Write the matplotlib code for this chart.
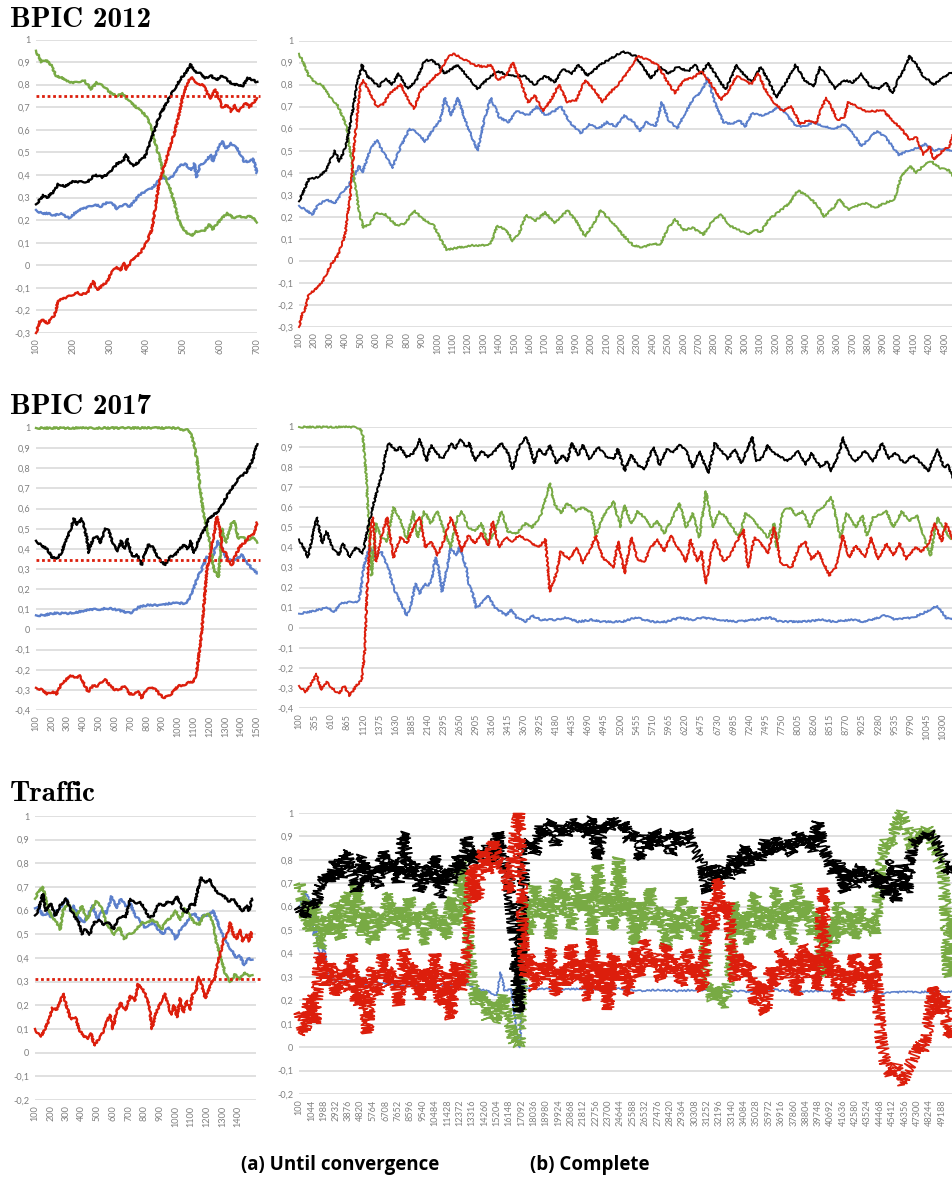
import numpy as np
import matplotlib.pyplot as plt

# ---------------- BPIC 2012 : until convergence ----------------
b12a_black_x = [100,120,130,150,160,180,200,220,240,260,280,300,320,335,345,355,365,380,395,405,420,435,455,475,495,510,520,530,545,560,575,590,605,620,635,650,660,675,690,700]
b12a_black = [0.27,0.31,0.30,0.33,0.36,0.35,0.37,0.37,0.37,0.40,0.39,0.41,0.45,0.46,0.49,0.45,0.44,0.46,0.48,0.52,0.59,0.66,0.72,0.78,0.83,0.86,0.89,0.86,0.85,0.83,0.84,0.82,0.84,0.82,0.80,0.80,0.79,0.83,0.82,0.81]
b12a_red_x = [100,110,120,130,145,150,160,170,185,200,210,225,240,255,265,280,295,305,320,330,340,345,360,375,385,400,415,425,435,450,465,475,490,500,515,525,540,555,565,575,585,595,605,620,630,640,650,660,670,680,690,700]
b12a_red = [-0.30,-0.25,-0.24,-0.26,-0.23,-0.22,-0.16,-0.15,-0.14,-0.13,-0.12,-0.13,-0.12,-0.07,-0.11,-0.09,-0.07,-0.03,-0.01,-0.02,0.01,-0.02,0.02,0.04,0.06,0.10,0.16,0.27,0.37,0.45,0.53,0.58,0.68,0.76,0.82,0.83,0.80,0.80,0.76,0.74,0.78,0.75,0.70,0.71,0.68,0.71,0.68,0.70,0.72,0.70,0.72,0.74]
b12a_blue_x = [100,115,135,150,165,190,205,225,245,260,275,295,310,320,340,355,365,380,400,415,430,445,460,475,490,505,520,530,535,545,565,575,580,595,605,615,630,645,655,665,680,690,700]
b12a_blue = [0.245,0.23,0.23,0.22,0.23,0.21,0.23,0.25,0.26,0.27,0.26,0.28,0.27,0.25,0.27,0.26,0.28,0.31,0.33,0.34,0.37,0.39,0.38,0.40,0.44,0.45,0.42,0.45,0.39,0.44,0.47,0.49,0.46,0.52,0.55,0.52,0.54,0.52,0.49,0.46,0.46,0.47,0.41]
b12a_green_x = [100,115,125,140,155,170,190,210,230,250,265,285,305,320,335,350,365,380,400,410,420,435,447,460,475,487,505,522,535,555,570,580,590,605,620,635,650,665,680,695,700]
b12a_green = [0.95,0.90,0.91,0.89,0.84,0.83,0.81,0.81,0.82,0.78,0.81,0.79,0.76,0.75,0.76,0.73,0.71,0.69,0.66,0.62,0.56,0.48,0.40,0.36,0.28,0.20,0.15,0.13,0.15,0.15,0.18,0.16,0.18,0.21,0.23,0.21,0.22,0.21,0.22,0.20,0.19]

# ---------------- BPIC 2012 : complete ----------------
b12b_black_x = [100,163,220,277,305,334,362,405,434,477,511,540,576,619,662,705,748,805,862,919,962,1004,1047,1133,1190,1261,1333,1390,1475,1561,1632,1703,1760,1818,1875,1917,1974,2060,2131,2203,2288,2345,2388,2445,2502,2559,2631,2673,2716,2759,2830,2873,2916,2944,2987,3044,3101,3158,3201,3258,3330,3387,3444,3487,3544,3586,3643,3700,3757,3814,3871,3914,3957,4000,4043,4071,4114,4157,4228,4285,4352]
b12b_black = [0.27,0.37,0.38,0.41,0.46,0.50,0.45,0.52,0.62,0.80,0.89,0.84,0.82,0.79,0.83,0.80,0.85,0.78,0.82,0.91,0.91,0.89,0.85,0.89,0.84,0.78,0.83,0.86,0.84,0.84,0.80,0.84,0.81,0.87,0.85,0.89,0.84,0.89,0.92,0.95,0.93,0.87,0.83,0.88,0.85,0.88,0.86,0.89,0.85,0.90,0.82,0.78,0.84,0.89,0.85,0.81,0.88,0.81,0.74,0.80,0.89,0.82,0.79,0.88,0.82,0.78,0.82,0.81,0.85,0.79,0.78,0.81,0.76,0.83,0.88,0.93,0.89,0.84,0.80,0.83,0.86]
b12b_red_x = [100,120,140,163,206,248,277,305,348,377,400,434,462,500,519,562,605,648,690,762,819,848,890,947,1019,1061,1104,1161,1233,1304,1347,1390,1447,1490,1547,1590,1632,1689,1746,1789,1846,1903,1960,2017,2074,2117,2174,2231,2302,2374,2431,2488,2545,2602,2659,2716,2773,2844,2901,2944,2987,3044,3087,3130,3187,3244,3301,3358,3415,3458,3501,3529,3558,3601,3643,3672,3729,3786,3843,3900,3957,4014,4071,4114,4157,4200,4228,4285,4328,4352]
b12b_red = [-0.30,-0.24,-0.22,-0.15,-0.13,-0.10,-0.06,-0.02,0.02,0.07,0.12,0.30,0.55,0.80,0.82,0.76,0.70,0.71,0.76,0.80,0.72,0.69,0.77,0.81,0.86,0.92,0.94,0.92,0.89,0.88,0.89,0.82,0.84,0.90,0.80,0.72,0.75,0.68,0.74,0.80,0.72,0.73,0.82,0.78,0.72,0.76,0.80,0.85,0.93,0.91,0.89,0.82,0.76,0.82,0.83,0.86,0.81,0.73,0.78,0.84,0.82,0.80,0.85,0.78,0.72,0.68,0.70,0.62,0.64,0.62,0.70,0.74,0.70,0.64,0.65,0.72,0.70,0.68,0.68,0.68,0.64,0.60,0.55,0.56,0.48,0.52,0.46,0.50,0.52,0.57]
b12b_blue_x = [100,148,186,220,277,334,377,420,462,491,511,562,605,634,677,705,733,762,819,876,919,976,1019,1047,1090,1133,1190,1219,1261,1304,1347,1404,1461,1518,1590,1646,1703,1760,1803,1860,1931,1988,2045,2103,2160,2217,2274,2317,2360,2417,2460,2502,2559,2602,2659,2716,2759,2802,2859,2916,2959,3001,3044,3101,3158,3215,3273,3330,3387,3444,3515,3586,3643,3700,3757,3814,3857,3914,3957,4000,4057,4114,4171,4228,4285,4352]
b12b_blue = [0.25,0.23,0.21,0.25,0.28,0.26,0.31,0.34,0.39,0.43,0.40,0.50,0.55,0.51,0.46,0.42,0.47,0.52,0.60,0.58,0.54,0.60,0.64,0.74,0.66,0.74,0.62,0.57,0.50,0.64,0.74,0.65,0.63,0.68,0.66,0.70,0.66,0.68,0.70,0.63,0.58,0.62,0.60,0.63,0.61,0.66,0.63,0.59,0.63,0.61,0.72,0.64,0.60,0.66,0.73,0.77,0.83,0.72,0.63,0.62,0.64,0.61,0.67,0.66,0.67,0.70,0.66,0.61,0.61,0.63,0.61,0.60,0.62,0.58,0.52,0.56,0.59,0.56,0.52,0.48,0.50,0.51,0.53,0.50,0.51,0.50]
b12b_green_x = [100,129,163,206,248,305,348,405,448,491,519,562,605,662,733,790,848,905,976,1019,1061,1133,1219,1304,1347,1390,1447,1490,1533,1576,1632,1703,1760,1846,1903,1960,2017,2060,2131,2203,2274,2331,2402,2445,2502,2545,2602,2659,2730,2787,2844,2901,2959,3015,3073,3101,3158,3215,3287,3344,3415,3472,3515,3572,3615,3672,3729,3786,3843,3900,3971,4014,4071,4114,4171,4214,4271,4328,4352]
b12b_green = [0.94,0.90,0.84,0.81,0.80,0.74,0.71,0.62,0.42,0.22,0.15,0.17,0.22,0.21,0.16,0.17,0.23,0.19,0.16,0.10,0.05,0.06,0.07,0.07,0.08,0.16,0.14,0.09,0.13,0.21,0.18,0.22,0.17,0.23,0.18,0.11,0.17,0.23,0.18,0.12,0.07,0.06,0.08,0.07,0.15,0.19,0.14,0.15,0.12,0.18,0.21,0.16,0.14,0.12,0.14,0.13,0.19,0.22,0.26,0.32,0.29,0.25,0.20,0.24,0.28,0.23,0.25,0.26,0.24,0.26,0.28,0.38,0.43,0.40,0.44,0.45,0.42,0.41,0.38]

# ---------------- BPIC 2017 : until convergence ----------------
b17a_black_x = [100,130,170,200,230,260,290,320,340,360,390,420,435,460,490,510,540,560,590,620,640,660,680,700,720,740,770,790,810,840,870,890,920,950,980,1010,1040,1060,1080,1100,1120,1140,1170,1193,1230,1267,1300,1340,1373,1400,1430,1460,1480,1500]
b17a_black = [0.44,0.42,0.40,0.36,0.35,0.38,0.44,0.50,0.55,0.52,0.55,0.46,0.38,0.45,0.46,0.43,0.50,0.49,0.42,0.39,0.44,0.40,0.45,0.38,0.36,0.37,0.32,0.38,0.42,0.41,0.36,0.34,0.32,0.36,0.37,0.40,0.42,0.40,0.44,0.38,0.42,0.46,0.50,0.55,0.57,0.60,0.65,0.70,0.74,0.76,0.78,0.82,0.86,0.92]
b17a_red_x = [100,140,170,200,230,260,290,320,350,380,410,430,460,490,520,540,570,600,630,660,690,720,750,770,800,830,860,880,910,940,970,1000,1030,1050,1080,1100,1120,1140,1160,1183,1200,1215,1230,1246,1265,1280,1300,1320,1341,1360,1390,1420,1450,1480,1500]
b17a_red = [-0.29,-0.30,-0.32,-0.31,-0.32,-0.27,-0.25,-0.23,-0.24,-0.23,-0.28,-0.31,-0.28,-0.28,-0.26,-0.25,-0.28,-0.30,-0.30,-0.28,-0.32,-0.32,-0.31,-0.34,-0.30,-0.29,-0.30,-0.32,-0.34,-0.33,-0.31,-0.28,-0.28,-0.27,-0.26,-0.26,-0.20,-0.08,0.08,0.30,0.36,0.42,0.48,0.56,0.50,0.40,0.38,0.34,0.32,0.36,0.41,0.43,0.46,0.47,0.53]
b17a_blue_x = [100,150,200,250,300,350,400,450,500,550,600,650,700,750,800,850,900,950,1000,1055,1090,1119,1150,1183,1220,1250,1280,1300,1340,1370,1404,1440,1470,1500]
b17a_blue = [0.07,0.07,0.08,0.08,0.08,0.085,0.09,0.10,0.10,0.105,0.10,0.09,0.08,0.11,0.12,0.12,0.12,0.13,0.13,0.13,0.18,0.25,0.30,0.36,0.36,0.44,0.40,0.36,0.34,0.35,0.37,0.33,0.30,0.28]
b17a_green_x = [100,1000,1013,1060,1080,1098,1120,1140,1160,1183,1200,1225,1256,1278,1300,1341,1355,1383,1410,1440,1470,1500]
b17a_green = [1.0,1.0,0.99,0.99,0.97,0.93,0.84,0.70,0.58,0.50,0.44,0.30,0.26,0.50,0.43,0.53,0.54,0.45,0.46,0.44,0.46,0.43]

# ---------------- BPIC 2017 : complete ----------------
b17b_black_x = [100,205,240,309,379,414,469,539,623,727,797,901,1006,1110,1194,1250,1354,1424,1472,1528,1633,1702,1807,1911,2016,2121,2190,2330,2399,2504,2573,2643,2748,2797,2887,2992,3096,3201,3305,3410,3480,3584,3689,3759,3828,3898,4003,4072,4177,4281,4351,4421,4525,4595,4700,4839,4978,5083,5153,5257,5362,5466,5571,5711,5815,5920,6024,6129,6233,6338,6442,6582,6687,6791,6896,7000,7105,7175,7280,7349,7454,7524,7628,7733,7837,8012,8117,8221,8361,8465,8535,8675,8710,8814,8919,9058,9198,9337,9442,9547,9686,9826,10070,10209,10313,10383,10460]
b17b_black = [0.44,0.38,0.35,0.45,0.55,0.50,0.42,0.48,0.40,0.36,0.42,0.35,0.40,0.37,0.50,0.58,0.70,0.78,0.87,0.92,0.88,0.90,0.85,0.87,0.94,0.83,0.91,0.85,0.85,0.92,0.89,0.94,0.90,0.92,0.83,0.88,0.85,0.88,0.92,0.87,0.79,0.90,0.95,0.90,0.82,0.89,0.86,0.91,0.82,0.86,0.83,0.92,0.86,0.91,0.84,0.90,0.85,0.84,0.89,0.78,0.86,0.81,0.79,0.90,0.81,0.89,0.87,0.91,0.88,0.80,0.88,0.77,0.92,0.88,0.84,0.89,0.82,0.87,0.95,0.83,0.85,0.91,0.87,0.85,0.83,0.88,0.81,0.87,0.80,0.83,0.78,0.89,0.95,0.86,0.83,0.88,0.83,0.92,0.84,0.87,0.82,0.86,0.78,0.89,0.80,0.81,0.74]
b17b_red_x = [100,205,309,379,449,539,623,727,818,901,1006,1096,1145,1180,1236,1270,1319,1403,1494,1598,1702,1807,1911,2016,2100,2190,2295,2399,2504,2608,2678,2783,2887,2992,3096,3166,3271,3375,3480,3584,3689,3793,3898,4003,4072,4177,4246,4386,4490,4595,4700,4804,4909,5083,5153,5257,5362,5466,5571,5676,5780,5885,5989,6094,6233,6303,6407,6477,6547,6617,6687,6826,6931,7035,7140,7210,7315,7419,7524,7628,7733,7907,8012,8117,8221,8326,8500,8605,8710,8814,8919,9058,9163,9267,9407,9512,9616,9721,9861,9965,10070,10174,10279,10348,10460]
b17b_red = [-0.29,-0.32,-0.27,-0.23,-0.31,-0.27,-0.30,-0.33,-0.29,-0.34,-0.29,-0.26,-0.10,0.20,0.50,0.55,0.33,0.45,0.55,0.35,0.45,0.42,0.50,0.55,0.40,0.43,0.36,0.44,0.55,0.46,0.38,0.46,0.42,0.47,0.41,0.53,0.40,0.45,0.43,0.46,0.44,0.42,0.40,0.44,0.18,0.27,0.38,0.34,0.40,0.32,0.38,0.46,0.35,0.30,0.43,0.27,0.45,0.34,0.33,0.40,0.44,0.38,0.46,0.40,0.33,0.44,0.33,0.38,0.22,0.35,0.44,0.33,0.36,0.43,0.49,0.30,0.45,0.42,0.37,0.50,0.32,0.30,0.40,0.43,0.34,0.38,0.26,0.30,0.46,0.35,0.41,0.35,0.45,0.34,0.42,0.36,0.42,0.34,0.40,0.38,0.42,0.52,0.43,0.52,0.44]
b17b_blue_x = [100,274,414,553,657,762,936,1040,1075,1124,1215,1319,1403,1528,1598,1668,1751,1807,1877,1946,2016,2086,2155,2211,2260,2309,2365,2448,2504,2588,2643,2748,2797,2852,2908,2992,3096,3201,3305,3375,3466,3550,3689,3793,3933,4177,4316,4525,4735,4874,5223,5431,5711,5920,6129,6338,6477,6756,7035,7315,7559,7733,8082,8396,8570,8849,9058,9372,9547,9826,10035,10209,10279,10348,10460]
b17b_blue = [0.07,0.08,0.09,0.10,0.08,0.12,0.13,0.13,0.18,0.30,0.40,0.35,0.38,0.28,0.20,0.15,0.10,0.06,0.12,0.22,0.17,0.22,0.21,0.25,0.35,0.30,0.18,0.30,0.40,0.36,0.40,0.30,0.21,0.17,0.10,0.12,0.16,0.10,0.08,0.06,0.09,0.05,0.03,0.06,0.04,0.04,0.05,0.03,0.04,0.03,0.03,0.05,0.03,0.03,0.05,0.04,0.05,0.04,0.03,0.04,0.05,0.03,0.03,0.04,0.03,0.04,0.03,0.06,0.04,0.05,0.08,0.11,0.08,0.05,0.04]
b17b_green_x = [100,1006,1075,1110,1166,1215,1250,1319,1403,1494,1598,1702,1807,1911,1981,2086,2190,2295,2399,2504,2608,2678,2783,2887,2992,3096,3201,3305,3410,3550,3689,3793,3933,4072,4142,4246,4351,4490,4595,4735,4804,4909,5083,5188,5257,5362,5466,5571,5676,5780,5885,5989,6129,6233,6338,6442,6547,6652,6756,6861,6965,7070,7175,7280,7384,7524,7628,7663,7768,7872,7977,8082,8186,8291,8396,8535,8605,8675,8779,8919,9024,9093,9198,9407,9512,9651,9756,9895,10000,10105,10209,10313,10418,10460]
b17b_green = [1.0,1.0,0.99,0.96,0.75,0.45,0.26,0.52,0.45,0.43,0.60,0.54,0.44,0.58,0.45,0.58,0.52,0.58,0.48,0.40,0.55,0.58,0.50,0.48,0.52,0.42,0.48,0.58,0.48,0.47,0.52,0.50,0.56,0.72,0.62,0.57,0.62,0.58,0.60,0.57,0.46,0.55,0.63,0.50,0.61,0.52,0.58,0.55,0.50,0.53,0.47,0.53,0.62,0.50,0.57,0.45,0.68,0.50,0.58,0.55,0.50,0.45,0.57,0.55,0.50,0.45,0.52,0.40,0.58,0.60,0.56,0.58,0.50,0.58,0.60,0.65,0.55,0.45,0.57,0.50,0.56,0.46,0.55,0.58,0.50,0.58,0.53,0.56,0.45,0.36,0.55,0.50,0.44,0.46]

# ---------------- Traffic : until convergence ----------------
tra_black_x = [100,120,150,170,200,230,260,300,330,350,380,400,420,450,480,510,540,570,600,630,660,680,710,740,770,800,830,860,890,920,950,980,1010,1040,1070,1100,1120,1140,1160,1190,1220,1250,1280,1310,1340,1370,1400,1430,1460,1470,1490]
tra_black = [0.58,0.60,0.67,0.60,0.63,0.58,0.62,0.65,0.60,0.58,0.55,0.50,0.52,0.50,0.55,0.56,0.54,0.55,0.52,0.56,0.58,0.57,0.65,0.63,0.64,0.61,0.57,0.58,0.63,0.62,0.64,0.63,0.66,0.61,0.59,0.63,0.62,0.68,0.74,0.72,0.73,0.69,0.67,0.66,0.64,0.65,0.62,0.60,0.62,0.60,0.65]
tra_blue_x = [100,120,150,180,210,240,270,300,330,350,380,410,440,470,500,530,560,590,620,650,680,710,740,770,800,830,860,890,920,950,980,1000,1030,1060,1090,1120,1150,1180,1210,1240,1270,1300,1330,1360,1390,1410,1440,1465,1490]
tra_blue = [0.61,0.62,0.58,0.59,0.57,0.60,0.62,0.65,0.60,0.62,0.57,0.55,0.58,0.62,0.56,0.60,0.59,0.66,0.61,0.65,0.62,0.63,0.58,0.56,0.53,0.54,0.55,0.52,0.50,0.53,0.51,0.48,0.52,0.54,0.57,0.59,0.56,0.58,0.58,0.60,0.55,0.50,0.46,0.43,0.40,0.41,0.37,0.40,0.39]
tra_green_x = [100,120,150,180,210,240,260,280,310,340,370,400,430,460,490,520,550,580,610,640,670,700,730,760,790,820,850,880,910,940,970,1000,1030,1060,1090,1120,1150,1180,1210,1240,1260,1290,1320,1350,1380,1410,1440,1470,1490]
tra_green = [0.65,0.68,0.70,0.62,0.57,0.55,0.52,0.60,0.63,0.60,0.58,0.62,0.56,0.60,0.64,0.62,0.56,0.52,0.50,0.53,0.48,0.50,0.51,0.53,0.55,0.55,0.56,0.55,0.52,0.56,0.57,0.60,0.56,0.61,0.58,0.55,0.54,0.58,0.59,0.55,0.47,0.40,0.33,0.30,0.33,0.31,0.34,0.32,0.33]
tra_red_x = [100,120,140,170,190,210,240,280,300,330,360,380,410,440,460,480,510,540,560,580,600,620,650,680,710,740,760,790,810,830,850,870,890,910,930,950,970,990,1010,1030,1050,1070,1090,1110,1130,1150,1170,1190,1210,1230,1250,1270,1290,1310,1330,1350,1370,1390,1410,1430,1450,1470,1480,1490]
tra_red = [0.10,0.08,0.07,0.11,0.14,0.19,0.18,0.25,0.20,0.14,0.15,0.10,0.07,0.06,0.08,0.03,0.06,0.09,0.13,0.16,0.10,0.17,0.21,0.18,0.24,0.22,0.29,0.27,0.24,0.20,0.10,0.16,0.19,0.22,0.25,0.21,0.16,0.20,0.15,0.23,0.17,0.22,0.18,0.25,0.26,0.32,0.28,0.23,0.26,0.30,0.31,0.38,0.43,0.48,0.50,0.55,0.50,0.48,0.52,0.47,0.50,0.47,0.51,0.49]

# ---------------- Traffic : complete (sampled every 400 steps) ----------------
trb_x = np.arange(100, 50101, 400)
trb_black = [0.60,0.55,0.63,0.60,0.68,0.74,0.70,0.80,0.72,0.84,
             0.74,0.66,0.82,0.70,0.78,0.68,0.84,0.74,0.80,0.70,
             0.92,0.72,0.80,0.66,0.78,0.70,0.82,0.64,0.76,0.70,
             0.82,0.74,0.90,0.78,0.84,0.80,0.86,0.78,0.92,0.80,
             0.72,0.45,0.15,0.86,0.88,0.82,0.94,0.90,0.97,0.86,
             0.95,0.90,0.97,0.92,0.96,0.90,0.98,0.80,0.96,0.92,
             0.98,0.93,0.96,0.88,0.92,0.80,0.90,0.84,0.93,0.86,
             0.91,0.82,0.92,0.86,0.93,0.85,0.82,0.78,0.66,0.78,
             0.70,0.77,0.72,0.82,0.74,0.86,0.78,0.84,0.80,0.88,
             0.82,0.90,0.84,0.88,0.82,0.92,0.86,0.90,0.84,0.96,
             0.86,0.80,0.74,0.80,0.66,0.76,0.68,0.78,0.70,0.76,
             0.68,0.74,0.64,0.80,0.62,0.78,0.66,0.86,0.90,0.88,
             0.92,0.90,0.86,0.80,0.74,0.78]
trb_green = [0.70,0.58,0.50,0.62,0.42,0.56,0.48,0.62,0.46,0.66,
             0.52,0.70,0.48,0.60,0.44,0.58,0.50,0.66,0.52,0.60,
             0.46,0.64,0.52,0.58,0.44,0.62,0.50,0.56,0.46,0.64,
             0.52,0.80,0.55,0.28,0.18,0.24,0.12,0.20,0.10,0.22,
             0.14,0.02,0.00,0.62,0.48,0.70,0.55,0.64,0.46,0.72,
             0.56,0.68,0.50,0.74,0.58,0.66,0.48,0.78,0.56,0.66,
             0.50,0.81,0.56,0.64,0.44,0.62,0.50,0.68,0.52,0.60,
             0.42,0.58,0.46,0.64,0.50,0.60,0.46,0.55,0.30,0.20,
             0.26,0.17,0.28,0.62,0.48,0.58,0.44,0.66,0.50,0.60,
             0.46,0.68,0.52,0.62,0.44,0.70,0.54,0.62,0.48,0.58,
             0.30,0.52,0.44,0.62,0.48,0.58,0.46,0.60,0.50,0.56,
             0.48,0.78,0.88,0.84,0.96,1.00,0.94,0.85,0.92,0.90,
             0.94,0.86,0.80,0.74,0.30,0.62]
trb_red = [0.15,0.05,0.22,0.10,0.40,0.26,0.36,0.22,0.34,0.24,
           0.40,0.18,0.30,0.06,0.34,0.22,0.40,0.26,0.34,0.18,
           0.42,0.26,0.36,0.20,0.34,0.24,0.40,0.18,0.32,0.12,
           0.36,0.24,0.38,0.78,0.62,0.84,0.74,0.88,0.80,0.76,
           0.66,0.88,1.00,0.30,0.40,0.24,0.36,0.28,0.42,0.22,
           0.34,0.26,0.44,0.28,0.38,0.20,0.46,0.24,0.36,0.16,
           0.40,0.28,0.36,0.22,0.42,0.30,0.46,0.34,0.40,0.28,
           0.44,0.32,0.38,0.26,0.42,0.30,0.36,0.24,0.62,0.50,
           0.72,0.56,0.62,0.28,0.40,0.30,0.36,0.18,0.28,0.14,
           0.34,0.26,0.42,0.30,0.38,0.22,0.44,0.30,0.40,0.24,
           0.68,0.30,0.38,0.20,0.34,0.22,0.40,0.28,0.36,0.24,
           0.40,0.05,-0.08,-0.12,-0.08,-0.16,-0.10,-0.06,0.02,-0.02,
           0.08,0.26,0.14,0.22,0.04,0.10]
trb_blue_x = [100,600,1000,1200,1400,1700,2000,2300,3000,4000,5000,6000,8000,10000,12000,13000,13500,14500,15200,15500,15800,16300,16600,16800,17000,17100,17300,18500,20000,21500,23000,24500,26000,27500,29000,30500,32000,33500,35000,36500,38000,39500,41000,42500,44000,44700,46000,47500,49000,50100]
trb_blue = [0.60,0.66,0.62,0.48,0.52,0.36,0.44,0.30,0.28,0.29,0.27,0.28,0.26,0.27,0.26,0.27,0.25,0.24,0.22,0.32,0.24,0.25,0.12,0.02,0.00,0.30,0.25,0.25,0.245,0.25,0.245,0.25,0.24,0.245,0.24,0.245,0.24,0.24,0.235,0.245,0.235,0.24,0.24,0.235,0.24,0.23,0.235,0.235,0.24,0.235]

# thresholds (red dotted) in the convergence panels
thresholds = [0.75, 0.345, 0.31]

# tick positions / labels
ticks_b12a = [100, 200, 300, 400, 500, 600, 700]
ticks_b12b = list(range(100, 4301, 100))
ticks_b17a = list(range(100, 1501, 100))
ticks_b17b = list(range(100, 10301, 255))
ticks_tra = list(range(100, 1401, 100))
ticks_trb = list(range(100, 49189, 944))

titles = ["BPIC 2012", "BPIC 2017", "Traffic"]
captions = ["(a) Until convergence", "(b) Complete"]

BLACK = "#000000"
RED = "#dc1e0c"
BLUE = "#5b7fcb"
GREEN = "#78aa44"
GRID = "#dddddd"
TICK = "#7f7f7f"

W, H = 953, 1180
fig = plt.figure(figsize=(W / 100, H / 100), dpi=100)

SOFT = (0.8, 3, 6)    # light pen jitter for the smoother panels
ROUGH = (6, 1.0, 3)   # heavy jitter for the very noisy traffic series


def px_axes(l, r, t, b):
    return fig.add_axes([l / W, 1 - b / H, (r - l) / W, (b - t) / H])


def fmt(v):
    s = f"{v:.1f}".replace(".", ",")
    if s == "1,0":
        return "1"
    if s in ("0,0", "-0,0"):
        return "0"
    return s


def dress(ax, xmax, ymin, ticks):
    ax.set_xlim(100, xmax)
    ax.set_ylim(ymin, 1)
    yt = np.round(np.arange(ymin, 1.0001, 0.1), 1)
    ax.set_yticks(yt)
    ax.set_yticklabels([fmt(v) for v in yt])
    ax.set_xticks(ticks)
    ax.set_xticklabels([str(t) for t in ticks], rotation=90)
    ax.grid(axis="y", color=GRID, lw=1.3)
    ax.set_axisbelow(True)
    for s in ax.spines.values():
        s.set_visible(False)
    ax.tick_params(length=0, labelsize=6.6, labelcolor=TICK, pad=4)
    for lab in ax.get_xticklabels() + ax.get_yticklabels():
        lab.set_fontfamily("Lato")


def draw(ax, series, lw):
    # order: blue, green, black, red (red ends up on top)
    for (x, y, c, z, sk) in series:
        ln, = ax.plot(x, y, color=c, lw=lw, zorder=z, clip_on=False)
        ln.set_sketch_params(*sk)


# ---- row 1 ----
ax = px_axes(36, 257, 39.5, 333)
draw(ax, [(b12a_blue_x, b12a_blue, BLUE, 2, SOFT), (b12a_green_x, b12a_green, GREEN, 3, SOFT),
          (b12a_black_x, b12a_black, BLACK, 4, SOFT), (b12a_red_x, b12a_red, RED, 5, SOFT)], 1.7)
ax.axhline(thresholds[0], xmax=1.015, color=RED, lw=2, ls=(0, (1, 1)), clip_on=False, zorder=6)
dress(ax, 700, -0.3, ticks_b12a)

ax = px_axes(299, 953, 40.5, 327)
draw(ax, [(b12b_blue_x, b12b_blue, BLUE, 2, SOFT), (b12b_green_x, b12b_green, GREEN, 3, SOFT),
          (b12b_black_x, b12b_black, BLACK, 4, SOFT), (b12b_red_x, b12b_red, RED, 5, SOFT)], 1.4)
dress(ax, 4352, -0.3, ticks_b12b)

# ---- row 2 ----
ax = px_axes(36, 257, 428, 710)
draw(ax, [(b17a_blue_x, b17a_blue, BLUE, 2, SOFT), (b17a_green_x, b17a_green, GREEN, 3, SOFT),
          (b17a_black_x, b17a_black, BLACK, 4, SOFT), (b17a_red_x, b17a_red, RED, 5, SOFT)], 1.7)
ax.axhline(thresholds[1], xmax=1.015, color=RED, lw=2, ls=(0, (1, 1)), clip_on=False, zorder=6)
dress(ax, 1500, -0.4, ticks_b17a)

ax = px_axes(299, 953, 427, 708)
draw(ax, [(b17b_blue_x, b17b_blue, BLUE, 2, SOFT), (b17b_green_x, b17b_green, GREEN, 3, SOFT),
          (b17b_black_x, b17b_black, BLACK, 4, SOFT), (b17b_red_x, b17b_red, RED, 5, SOFT)], 1.4)
dress(ax, 10460, -0.4, ticks_b17b)

# ---- row 3 ----
ax = px_axes(35, 256, 816, 1100)
draw(ax, [(tra_blue_x, tra_blue, BLUE, 2, SOFT), (tra_green_x, tra_green, GREEN, 3, SOFT),
          (tra_black_x, tra_black, BLACK, 4, SOFT), (tra_red_x, tra_red, RED, 5, SOFT)], 1.7)
ax.axhline(thresholds[2], xmax=1.02, color=RED, lw=2, ls=(0, (1, 1)), clip_on=False, zorder=6)
dress(ax, 1515, -0.2, ticks_tra)

ax = px_axes(299, 953, 813, 1094)
draw(ax, [(trb_blue_x, trb_blue, BLUE, 2, SOFT), (trb_x, trb_green, GREEN, 3, ROUGH),
          (trb_x, trb_black, BLACK, 4, ROUGH), (trb_x, trb_red, RED, 5, ROUGH)], 1.2)
dress(ax, 50030, -0.2, ticks_trb)

# titles and captions
for title, y in zip(titles, [27, 414, 801]):
    fig.text(10 / W, 1 - y / H, title, fontfamily="cmb10", fontsize=21, va="baseline", ha="left")

fig.text(340 / W, 1 - 1165 / H, captions[0], fontfamily="Open Sans", fontweight="bold",
         fontsize=13.5, ha="center", va="center")
fig.text(590 / W, 1 - 1165 / H, captions[1], fontfamily="Open Sans", fontweight="bold",
         fontsize=13.5, ha="center", va="center")

fig.savefig("out.png", dpi=100)
